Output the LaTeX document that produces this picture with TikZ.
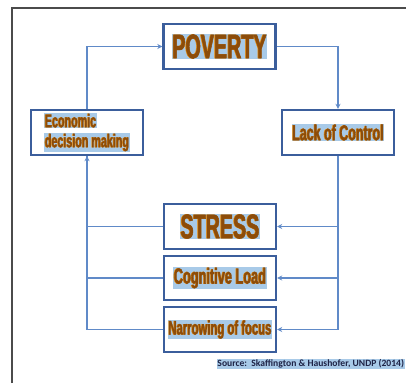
\documentclass[tikz,border=0pt]{standalone}
\usepackage{fontspec}
\newfontfamily\impfont[FakeStretch=0.58,FakeBold=1.5]{Liberation Sans}
\newfontfamily\srcfont{Carlito}
\usetikzlibrary{arrows.meta}
\definecolor{boxblue}{RGB}{59,94,156}
\definecolor{linkblue}{RGB}{96,138,200}
\definecolor{hlblue}{RGB}{168,202,232}
\definecolor{txtbrown}{RGB}{140,76,10}
\definecolor{txtshadow}{RGB}{232,144,20}
\definecolor{framegray}{RGB}{75,75,75}
\definecolor{srcnavy}{RGB}{30,35,70}
\tikzset{
    stepbox/.style={
        draw=boxblue, line width=2.4pt, fill=white,
        minimum width=112pt, minimum height=45pt, inner sep=0pt
    },
    link/.style={draw=linkblue, line width=1.4pt},
    arr/.style={link, -{Stealth[length=5pt,width=5pt]}},
    frame/.style={draw=framegray, line width=1.8pt},
    imp/.style={font=\impfont\bfseries\fontsize{#1}{#1}\selectfont}
}
\newcommand{\hlt}[1]{{\setlength{\fboxsep}{0.6pt}\colorbox{hlblue}{\rlap{\kern-0.7pt\textcolor{txtshadow}{#1}}\textcolor{txtbrown}{#1}}}}

\begin{document}
\begin{tikzpicture}[x=1pt,y=-1pt]
		\useasboundingbox (0,0) rectangle (406,383);
		\fill[white] (0,0) rectangle (406,383);

		% frame
		\draw[frame] (12,383) -- (12,8) -- (406,8);

		% cycle
		\node[stepbox, imp=18.5, align=left] (econ) at (87,132.5) {\hlt{Economic}\\[1.5pt]\hlt{decision making}};
		\node[stepbox, imp=34] (poverty) at (219.5,46.5) {\hlt{POVERTY}};
		\node[stepbox, imp=21.5] (lack) at (338,132.5) {\hlt{Lack of Control}};

		% effects
		\node[stepbox, imp=34] (stress) at (220,226.5) {\hlt{STRESS}};
		\node[stepbox, imp=22, minimum height=44pt] (cog) at (220,278) {\hlt{Cognitive Load}};
		\node[stepbox, imp=19.5] (narrow) at (220,329.5) {\hlt{Narrowing of focus}};

		% connectors
		\draw[arr] (econ.north) |- (poverty.west);
		\draw[arr] (poverty.east) -| (lack.north);
		\draw[arr] (lack.south) |- (stress.east);
		\draw[arr] (lack.south) |- (cog.east);
		\draw[arr] (lack.south) |- (narrow.east);
		\draw[link] (stress.west) -| (econ.south);
		\draw[link] (cog.west) -| (econ.south);
		\draw[arr] (narrow.west) -| (econ.south);

		% source
		\node[anchor=east, inner sep=0pt, text=srcnavy, font=\srcfont\bfseries\fontsize{9.6}{10}\selectfont] (src) at (405,364) {\setlength{\fboxsep}{0.8pt}\colorbox{hlblue}{Source:\ \ Skaffington \& Haushofer, UNDP (2014)}};
	\end{tikzpicture}
\end{document}
